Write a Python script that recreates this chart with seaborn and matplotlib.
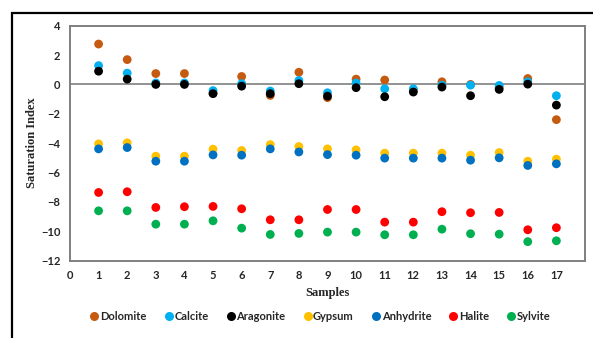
import matplotlib
matplotlib.use("Agg")
import matplotlib.pyplot as plt
from matplotlib.patches import Rectangle
import seaborn as sns
import pandas as pd

samples = list(range(1, 18))

dolomite = [2.75, 1.69, 0.74, 0.74, -0.60, 0.54, -0.75, 0.83, -0.90, 0.36, 0.30, -0.40, 0.18, 0.00, -0.20, 0.40, -2.40]
calcite = [1.28, 0.77, 0.10, 0.10, -0.42, 0.05, -0.45, 0.27, -0.57, 0.10, -0.30, -0.30, -0.05, -0.05, -0.07, 0.18, -0.77]
aragonite = [0.90, 0.36, 0.00, 0.00, -0.63, -0.12, -0.63, 0.05, -0.80, -0.22, -0.84, -0.52, -0.18, -0.77, -0.34, 0.02, -1.41]
gypsum = [-4.05, -3.98, -4.89, -4.89, -4.41, -4.50, -4.10, -4.23, -4.39, -4.46, -4.68, -4.68, -4.68, -4.82, -4.64, -5.23, -5.09]
anhydrite = [-4.39, -4.30, -5.23, -5.23, -4.80, -4.82, -4.39, -4.60, -4.78, -4.82, -5.02, -5.02, -5.02, -5.16, -5.00, -5.52, -5.41]
halite = [-7.36, -7.31, -8.38, -8.33, -8.31, -8.47, -9.22, -9.22, -8.52, -8.52, -9.38, -9.38, -8.67, -8.74, -8.72, -9.90, -9.76]
sylvite = [-8.61, -8.61, -9.52, -9.52, -9.29, -9.79, -10.22, -10.15, -10.06, -10.06, -10.24, -10.24, -9.86, -10.17, -10.20, -10.71, -10.65]

minerals = ["Dolomite", "Calcite", "Aragonite", "Gypsum", "Anhydrite", "Halite", "Sylvite"]
series = [dolomite, calcite, aragonite, gypsum, anhydrite, halite, sylvite]
colors = ["#C55A11", "#00B0F0", "#000000", "#FFC000", "#0070C0", "#FF0000", "#00B050"]

df = pd.DataFrame(
    [(s, v, m) for m, vals in zip(minerals, series) for s, v in zip(samples, vals)],
    columns=["Sample", "SI", "Mineral"],
)

sns.set_theme(style="white")
plt.rcParams["font.family"] = ["Lato", "DejaVu Sans"]

fig = plt.figure(figsize=(5.93, 3.38), dpi=100)
ax = fig.add_axes([0.118, 0.229, 0.8685, 0.695])

sns.scatterplot(
    data=df, x="Sample", y="SI", hue="Mineral", hue_order=minerals,
    palette=dict(zip(minerals, colors)), s=40, linewidth=0, ax=ax, legend=False,
)

ax.axhline(0, color="#7f7f7f", lw=1.2, zorder=0)
ax.set_xlim(0, 18)
ax.set_ylim(-12, 4)
ax.set_xticks(range(0, 18))
ax.set_yticks(range(-12, 5, 2))
ax.tick_params(axis="both", length=0, labelsize=8, pad=7)
for lab in ax.get_xticklabels() + ax.get_yticklabels():
    lab.set_fontweight("bold")
for sp in ax.spines.values():
    sp.set_color("#7f7f7f")
    sp.set_linewidth(1.4)

ax.set_xlabel("Samples", family="Liberation Serif", fontweight="bold", fontsize=9, labelpad=4)
ax.set_ylabel("Saturation Index", family="Liberation Serif", fontweight="bold", fontsize=9, labelpad=2)

handles = [
    plt.Line2D([], [], marker="o", linestyle="", markersize=6.5, markerfacecolor=c, markeredgewidth=0)
    for c in colors
]
ax.legend(
    handles, minerals, loc="upper center", bbox_to_anchor=(0.485, -0.17), ncol=7,
    frameon=False, handletextpad=0.0, columnspacing=1.5, handlelength=1.0,
    prop={"family": ["Lato", "DejaVu Sans"], "weight": "bold", "size": 8},
)

# outer frame around the whole figure
fig.patches.append(Rectangle((12 / 593, -0.05), 1.0, 1 - 12.7 / 338 + 0.05,
                             transform=fig.transFigure, fill=False,
                             edgecolor="black", linewidth=1.6))

fig.savefig("out.png", dpi=100)
